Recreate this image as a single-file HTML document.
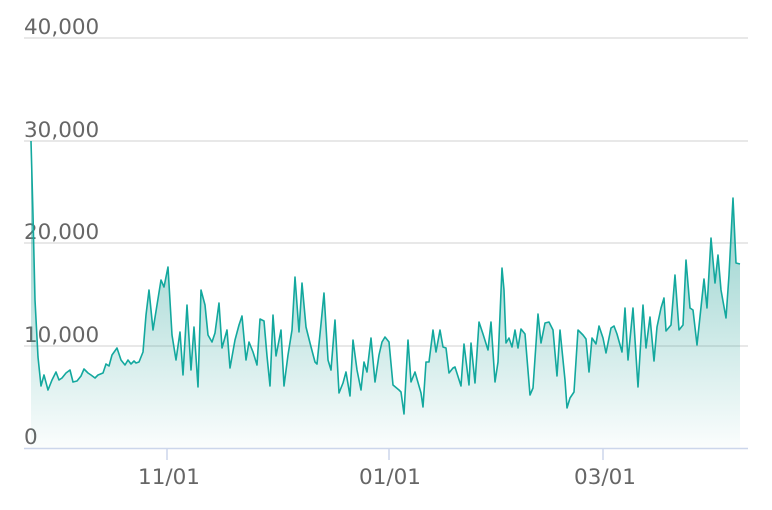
<!DOCTYPE html>
<html><head><style>
html,body{margin:0;padding:0;background:#fff;}
svg{display:block;font-family:"DejaVu Sans","Liberation Sans",sans-serif;}
</style></head><body>
<svg width="772" height="510" viewBox="0 0 772 510">
<defs><linearGradient id="g" x1="0" y1="0" x2="0" y2="1">
<stop offset="0" stop-color="#2aa39a" stop-opacity="0.62"/>
<stop offset="1" stop-color="#2aa39a" stop-opacity="0.02"/>
</linearGradient></defs>
<g stroke="#e0e0e0" stroke-width="1.5">
<line x1="24" x2="748" y1="38" y2="38"/><line x1="24" x2="748" y1="141" y2="141"/>
<line x1="24" x2="748" y1="243" y2="243"/><line x1="24" x2="748" y1="346" y2="346"/>
</g>
<g fill="#666" font-size="21.5">
<text x="24" y="34">40,000</text><text x="24" y="137">30,000</text>
<text x="24" y="239">20,000</text><text x="24" y="342">10,000</text><text x="24" y="444">0</text>
</g>
<path d="M31,141 L33,215 35,300 38,357 41,386 44,375 48,390 52,380 56,372 59,380 62,378 66,373 70,370 73,382 77,381 81,376 84,369 88,373 91,375 95,378 98,375 103,373 106,364 109,366 112,355 117,348 121,360 125,365 128,360 131,364 134,361 136,363 139,362 143,352 146,315 149,290 153,330 157,305 161,280 164,287 168,267 172,335 176,360 180,332 183,375 187,305 191,370 194,327 198,387 201,290 205,305 208,335 212,342 215,333 219,303 222,348 227,330 230,368 235,340 239,325 242,316 246,360 249,342 253,352 257,365 260,319 264,321 267,356 270,386 273,315 276,356 281,330 284,386 288,355 292,330 295,277 299,332 302,283 306,327 310,343 315,362 317,364 321,324 324,293 328,360 331,370 335,320 339,393 343,383 346,372 350,396 353,340 357,370 361,390 364,362 367,372 371,338 375,382 379,355 382,342 385,337 389,342 393,385 399,390 401,392 404,414 408,340 411,382 415,372 421,393 423,407 426,362 429,362 433,330 436,352 440,330 443,347 446,348 449,373 453,368 455,367 461,386 464,344 469,385 471,343 475,383 479,322 483,334 488,350 491,322 495,382 498,362 502,268 504,290 506,343 509,338 512,347 515,330 518,348 521,329 525,334 530,395 533,388 538,314 541,343 545,323 549,322 553,330 557,376 560,330 565,380 567,408 570,398 574,392 578,330 583,335 586,339 589,372 592,338 596,344 599,326 603,338 606,353 611,328 614,326 617,334 622,352 625,308 628,360 633,308 638,387 643,305 646,348 650,317 654,361 657,327 661,308 664,298 666,331 671,325 675,275 679,330 683,325 686,260 690,308 693,310 697,345 704,279 707,308 711,238 715,283 718,255 721,290 726,318 729,275 733,198 736,263 740,264 L740,448 L31,448 Z" fill="url(#g)" stroke="none"/>
<path d="M31,141 L33,215 35,300 38,357 41,386 44,375 48,390 52,380 56,372 59,380 62,378 66,373 70,370 73,382 77,381 81,376 84,369 88,373 91,375 95,378 98,375 103,373 106,364 109,366 112,355 117,348 121,360 125,365 128,360 131,364 134,361 136,363 139,362 143,352 146,315 149,290 153,330 157,305 161,280 164,287 168,267 172,335 176,360 180,332 183,375 187,305 191,370 194,327 198,387 201,290 205,305 208,335 212,342 215,333 219,303 222,348 227,330 230,368 235,340 239,325 242,316 246,360 249,342 253,352 257,365 260,319 264,321 267,356 270,386 273,315 276,356 281,330 284,386 288,355 292,330 295,277 299,332 302,283 306,327 310,343 315,362 317,364 321,324 324,293 328,360 331,370 335,320 339,393 343,383 346,372 350,396 353,340 357,370 361,390 364,362 367,372 371,338 375,382 379,355 382,342 385,337 389,342 393,385 399,390 401,392 404,414 408,340 411,382 415,372 421,393 423,407 426,362 429,362 433,330 436,352 440,330 443,347 446,348 449,373 453,368 455,367 461,386 464,344 469,385 471,343 475,383 479,322 483,334 488,350 491,322 495,382 498,362 502,268 504,290 506,343 509,338 512,347 515,330 518,348 521,329 525,334 530,395 533,388 538,314 541,343 545,323 549,322 553,330 557,376 560,330 565,380 567,408 570,398 574,392 578,330 583,335 586,339 589,372 592,338 596,344 599,326 603,338 606,353 611,328 614,326 617,334 622,352 625,308 628,360 633,308 638,387 643,305 646,348 650,317 654,361 657,327 661,308 664,298 666,331 671,325 675,275 679,330 683,325 686,260 690,308 693,310 697,345 704,279 707,308 711,238 715,283 718,255 721,290 726,318 729,275 733,198 736,263 740,264" fill="none" stroke="#13a89e" stroke-width="1.6" stroke-linejoin="round"/>
<line x1="24" x2="748" y1="448.5" y2="448.5" stroke="#ccd6eb" stroke-width="1.5"/>
<g stroke="#ccd6eb" stroke-width="1.5">
<line x1="167" x2="167" y1="448" y2="460"/><line x1="389" x2="389" y1="448" y2="460"/><line x1="603" x2="603" y1="448" y2="460"/>
</g>
<g fill="#666" font-size="21.5" text-anchor="middle">
<text x="169" y="484">11/01</text><text x="390" y="484">01/01</text><text x="605" y="484">03/01</text>
</g>
</svg>
</body></html>
